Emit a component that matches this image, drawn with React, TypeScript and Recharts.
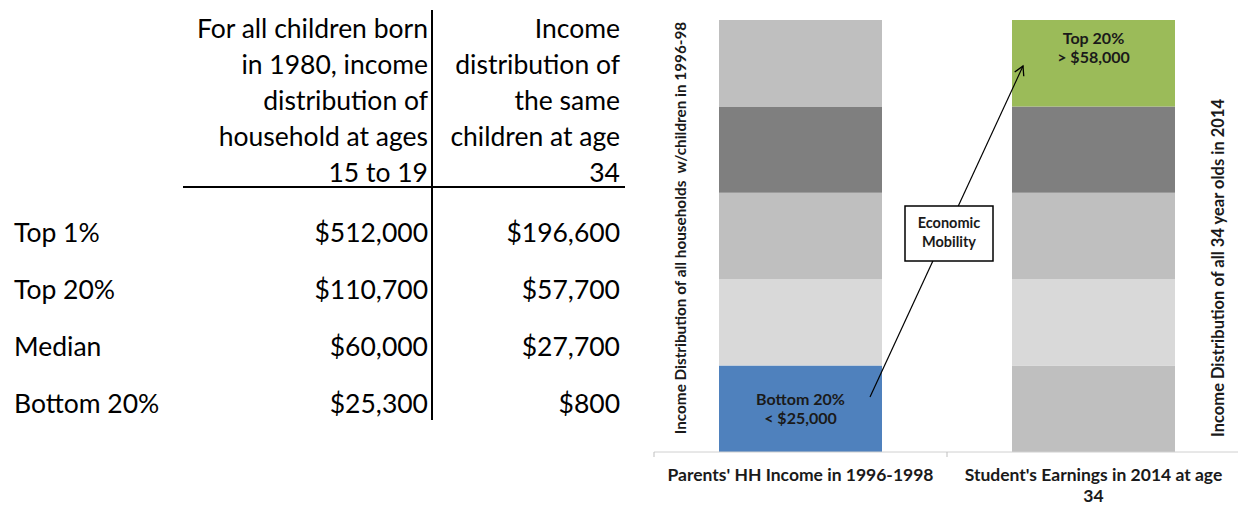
import React from "react";
import { BarChart, Bar, XAxis, YAxis, Cell, LabelList } from "recharts";

// stacked quintile bars (bottom -> top)
const categories = [
  "Parents' HH Income in 1996-1998",
  "Student's Earnings in 2014 at age 34",
];
// how each category label wraps under the axis
const categoryLines = [
  ["Parents' HH Income in 1996-1998"],
  ["Student's Earnings in 2014 at age", "34"],
];
const quintileKeys = ["q1", "q2", "q3", "q4", "q5"];
const parentsShare = [20, 20, 20, 20, 20];
const studentsShare = [20, 20, 20, 20, 20];
const parentsFill = ["#4F81BD", "#D9D9D9", "#BFBFBF", "#7F7F7F", "#BFBFBF"];
const studentsFill = ["#BFBFBF", "#D9D9D9", "#BFBFBF", "#7F7F7F", "#9BBB59"];
const parentsNotes = [["Bottom 20%", "< $25,000"], null, null, null, null];
const studentsNotes = [null, null, null, null, ["Top 20%", "> $58,000"]];

// table on the left
const headerParents = [
  "For all children born",
  "in 1980, income",
  "distribution of",
  "household at ages",
  "15 to 19",
];
const headerChild = ["Income", "distribution of", "the same", "children at age", "34"];
const rowLabels = ["Top 1%", "Top 20%", "Median", "Bottom 20%"];
const parentsIncome = ["$512,000", "$110,700", "$60,000", "$25,300"];
const childIncome = ["$196,600", "$57,700", "$27,700", "$800"];

const W = 1238;
const H = 506;
const margin = { top: 20, right: -2, bottom: 0, left: 654 };
const band = (W - margin.left - margin.right) / categories.length;
const FONT = "Lato, 'Open Sans', sans-serif";

const data = categories.map((name, ci) => {
  const row: Record<string, any> = { name };
  const shares = ci === 0 ? parentsShare : studentsShare;
  quintileKeys.forEach((k, qi) => (row[k] = shares[qi]));
  return row;
});

const fills = [parentsFill, studentsFill];
const notes = [parentsNotes, studentsNotes];

function makeNoteLabel(qi: number) {
  return (props: any) => {
    const { x, y, width, height, index } = props;
    const note = notes[index][qi];
    if (!note) return null;
    const cx = x + width / 2;
    const top = qi === quintileKeys.length - 1;
    const y1 = top ? y + 24 : y + height / 2 - 4;
    return (
      <g>
        <text x={cx} y={y1} textAnchor="middle" fontFamily={FONT} fontWeight={700} fontSize={16} fill="#1a1a1a">
          {note[0]}
        </text>
        <text x={cx} y={y1 + 19} textAnchor="middle" fontFamily={FONT} fontWeight={700} fontSize={16} fill="#1a1a1a">
          {note[1]}
        </text>
      </g>
    );
  };
}

function CategoryTick(props: any) {
  const { x, y, index } = props;
  const lines = categoryLines[index] || [];
  return (
    <g>
      <line x1={x - band / 2} y1={y - 8} x2={x - band / 2} y2={y - 3} stroke="#BFBFBF" />
      {lines.map((t, i) => (
        <text
          key={i}
          x={x}
          y={y + 21 + i * 21}
          textAnchor="middle"
          fontFamily={FONT}
          fontWeight={700}
          fontSize={17.5}
          fill="#1a1a1a"
        >
          {t}
        </text>
      ))}
    </g>
  );
}

function Table() {
  const base: React.CSSProperties = {
    position: "absolute",
    fontFamily: FONT,
    fontSize: 26.5,
    lineHeight: "36px",
    color: "#000",
    whiteSpace: "nowrap",
  };
  return (
    <>
      {headerParents.map((t, i) => (
        <div key={"hp" + i} style={{ ...base, top: 10 + i * 36, left: 130, width: 298, textAlign: "right" }}>
          {t}
        </div>
      ))}
      {headerChild.map((t, i) => (
        <div key={"hc" + i} style={{ ...base, top: 10 + i * 36, left: 436, width: 184, textAlign: "right" }}>
          {t}
        </div>
      ))}
      {rowLabels.map((t, i) => (
        <React.Fragment key={"r" + i}>
          <div style={{ ...base, top: 214 + i * 57, left: 14 }}>{t}</div>
          <div style={{ ...base, top: 214 + i * 57, left: 200, width: 228, textAlign: "right" }}>
            {parentsIncome[i]}
          </div>
          <div style={{ ...base, top: 214 + i * 57, left: 436, width: 184, textAlign: "right" }}>
            {childIncome[i]}
          </div>
        </React.Fragment>
      ))}
      <div style={{ position: "absolute", left: 431, top: 10, width: 2, height: 410, background: "#000" }} />
      <div style={{ position: "absolute", left: 183, top: 186, width: 442, height: 2, background: "#000" }} />
    </>
  );
}

function Annotation() {
  const axisText = { fontFamily: FONT, fontWeight: 700, fill: "#1a1a1a" } as any;
  return (
    <svg width={W} height={H} style={{ position: "absolute", left: 0, top: 0, pointerEvents: "none" }}>
      <defs>
        <marker id="arr" markerWidth="12" markerHeight="12" refX="10" refY="6" orient="auto" markerUnits="userSpaceOnUse">
          <path d="M1,1 L10,6 L1,11" fill="none" stroke="#000" strokeWidth={1.3} />
        </marker>
      </defs>
      <line x1={870} y1={397} x2={1023} y2={66} stroke="#000" strokeWidth={1.2} markerEnd="url(#arr)" />
      <rect x={905} y={206} width={88} height={55} fill="#fff" stroke="#000" strokeWidth={1.5} />
      <text x={949} y={228} textAnchor="middle" fontFamily={FONT} fontWeight={700} fontSize={14.5} fill="#1a1a1a">
        Economic
      </text>
      <text x={949} y={247} textAnchor="middle" fontFamily={FONT} fontWeight={700} fontSize={14.5} fill="#1a1a1a">
        Mobility
      </text>
      <text
        x={0}
        y={0}
        transform="translate(686,228) rotate(-90)"
        textAnchor="middle"
        fontSize={15.3}
        style={{ whiteSpace: "pre" }}
        {...axisText}
      >
        {"Income Distribution of all households  w/children in 1996-98"}
      </text>
      <text x={0} y={0} transform="translate(1224,268) rotate(-90)" textAnchor="middle" fontSize={16.5} {...axisText}>
        Income Distribution of all 34 year olds in 2014
      </text>
    </svg>
  );
}

export default function App() {
  return (
    <div style={{ position: "absolute", left: 0, top: 0, width: W, height: H, background: "#fff", overflow: "hidden" }}>
      <Table />
      <div style={{ position: "absolute", left: 0, top: 0 }}>
        <BarChart width={W} height={H} data={data} margin={margin} barSize={163}>
          <YAxis hide domain={[0, 100]} />
          <XAxis
            dataKey="name"
            height={54}
            axisLine={{ stroke: "#D0D0D0" }}
            tickLine={false}
            interval={0}
            tick={<CategoryTick />}
          />
          {quintileKeys.map((k, qi) => (
            <Bar key={k} dataKey={k} stackId="s" isAnimationActive={false}>
              {data.map((_, ci) => (
                <Cell key={ci} fill={fills[ci][qi]} />
              ))}
              <LabelList dataKey={k} content={makeNoteLabel(qi)} />
            </Bar>
          ))}
        </BarChart>
      </div>
      <Annotation />
    </div>
  );
}
